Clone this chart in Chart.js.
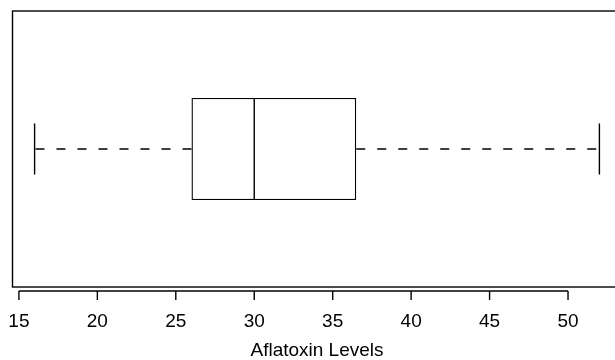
<!DOCTYPE html>
<html>
<head>
<meta charset="utf-8">
<script src="https://cdn.jsdelivr.net/npm/chart.js@4.4.0/dist/chart.umd.min.js"></script>
<style>
  html, body { margin: 0; padding: 0; overflow: hidden; background: #fff; }
  #wrap { width: 632px; height: 360px; }
</style>
</head>
<body>
<div id="wrap"><canvas id="boxChart" width="632" height="360"></canvas></div>
<script>
// boxplot summary
const categories = [''];
const whiskerLow = [16];
const quartile1 = [26];
const medians = [30];
const quartile3 = [36.5];
const whiskerHigh = [52];
const tickValues = [15, 20, 25, 30, 35, 40, 45, 50];
const axisRange = [14.56, 53.44];

const FONT = '"Liberation Sans", Arial, sans-serif';
const LW = 1.4;

// R style: median, dashed whiskers, caps, frame and axis line
const rBoxPlugin = {
    id: 'rBox',
    afterDatasetsDraw(chart) {
        const ctx = chart.ctx;
        const x = chart.scales.x;
        const area = chart.chartArea;
        const meta = chart.getDatasetMeta(0);
        const seg = (x0, y0, x1, y1) => {
            ctx.beginPath();
            ctx.moveTo(x0, y0);
            ctx.lineTo(x1, y1);
            ctx.stroke();
        };
        ctx.save();
        ctx.strokeStyle = '#000';
        ctx.lineWidth = LW;
        meta.data.forEach((bar, i) => {
            const yc = bar.y;
            const half = bar.height / 2;
            const xMed = x.getPixelForValue(medians[i]);
            seg(xMed, yc - half, xMed, yc + half);

            ctx.setLineDash([9, 12]);
            seg(x.getPixelForValue(quartile1[i]), yc, x.getPixelForValue(whiskerLow[i]), yc);
            seg(x.getPixelForValue(quartile3[i]), yc, x.getPixelForValue(whiskerHigh[i]), yc);
            ctx.setLineDash([]);

            const xLo = x.getPixelForValue(whiskerLow[i]);
            const xHi = x.getPixelForValue(whiskerHigh[i]);
            seg(xLo, yc - half / 2, xLo, yc + half / 2);
            seg(xHi, yc - half / 2, xHi, yc + half / 2);
        });

        ctx.strokeRect(area.left + 0.5, area.top, area.right - area.left, area.bottom - area.top);

        const ay = area.bottom + 4;
        seg(x.getPixelForValue(tickValues[0]), ay,
            x.getPixelForValue(tickValues[tickValues.length - 1]), ay);
        tickValues.forEach(v => {
            const px = x.getPixelForValue(v);
            seg(px, ay, px, ay + 9);
        });
        ctx.restore();
    }
};

new Chart(document.getElementById('boxChart').getContext('2d'), {
    type: 'bar',
    data: {
        labels: categories,
        datasets: [{
            data: quartile1.map((q, i) => [q, quartile3[i]]),
            backgroundColor: '#ffffff',
            borderColor: '#000000',
            borderWidth: LW,
            borderSkipped: false,
            barPercentage: 0.37,
            categoryPercentage: 1
        }]
    },
    options: {
        indexAxis: 'y',
        responsive: false,
        animation: false,
        layout: { padding: { left: 12, right: 10, top: 11, bottom: 0 } },
        plugins: {
            legend: { display: false },
            tooltip: { enabled: false }
        },
        scales: {
            x: {
                type: 'linear',
                position: 'bottom',
                min: axisRange[0],
                max: axisRange[1],
                grid: { display: false },
                border: { display: false },
                afterBuildTicks: scale => {
                    scale.ticks = tickValues.map(v => ({ value: v }));
                },
                afterFit: scale => {
                    scale.height = 73;
                    scale.paddingLeft = 0;
                    scale.paddingRight = 0;
                },
                ticks: {
                    autoSkip: false,
                    maxRotation: 0,
                    padding: 15,
                    color: '#000',
                    font: { family: FONT, size: 19 }
                },
                title: {
                    display: true,
                    text: 'Aflatoxin Levels',
                    color: '#000',
                    padding: 0,
                    font: { family: FONT, size: 19, lineHeight: 1.0 }
                }
            },
            y: {
                type: 'category',
                labels: categories,
                display: false
            }
        }
    },
    plugins: [rBoxPlugin]
});
</script>
</body>
</html>
